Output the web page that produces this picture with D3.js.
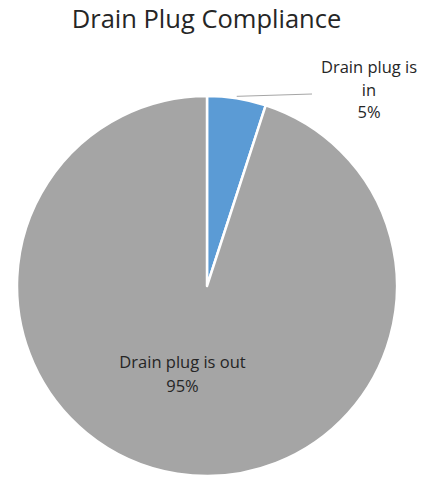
<!DOCTYPE html>
<html>
<head>
<meta charset="utf-8">
<script src="https://cdn.jsdelivr.net/npm/d3@7"></script>
<style>
  html, body { margin: 0; padding: 0; background: #fff; }
  svg text { font-family: "Open Sans", "Noto Sans", sans-serif; fill: #262626; }
</style>
</head>
<body>
<svg id="chart" width="424" height="479"></svg>
<script>
// Compliance shares, in percent
const categories = ["Drain plug is in", "Drain plug is out"];
const values = [5, 95];
const colors = ["#5b9bd5", "#a5a5a5"];
const chartTitle = "Drain Plug Compliance";

const svg = d3.select("#chart");
const cx = 207, cy = 286, radius = 190;

svg.append("text")
  .attr("x", 206.5)
  .attr("y", 28)
  .attr("text-anchor", "middle")
  .style("font-size", "25.5px")
  .text(chartTitle);

const pie = d3.pie().sort(null).value(d => d.value);
const arcs = pie(categories.map((c, i) => ({ name: c, value: values[i], color: colors[i] })));
const arc = d3.arc().innerRadius(0).outerRadius(radius);

const g = svg.append("g").attr("transform", `translate(${cx},${cy})`);

g.selectAll("path.slice")
  .data(arcs)
  .join("path")
  .attr("class", "slice")
  .attr("d", arc)
  .attr("fill", d => d.data.color)
  .attr("stroke", "#fff")
  .attr("stroke-width", 2.5)
  .attr("stroke-linejoin", "round");

const fmt = v => Math.round(v) + "%";

// Small slice: label outside with a leader line
const small = arcs[0];
const midA = (small.startAngle + small.endAngle) / 2;
const p0 = [Math.sin(midA) * radius, -Math.cos(midA) * radius - 2];
const p1 = [105, -192];
g.append("line")
  .attr("x1", p0[0]).attr("y1", p0[1])
  .attr("x2", p1[0]).attr("y2", p1[1])
  .attr("stroke", "#a6a6a6")
  .attr("stroke-width", 1);

const outLabel = g.append("text")
  .attr("text-anchor", "middle")
  .style("font-size", "16.5px");
["Drain plug is", "in", fmt(small.data.value)].forEach((t, i) => {
  outLabel.append("tspan")
    .attr("x", 162)
    .attr("y", -213 + i * 22.5)
    .text(t);
});

// Large slice: label inside
const big = arcs[1];
const inLabel = g.append("text")
  .attr("text-anchor", "middle")
  .style("font-size", "16.5px");
["Drain plug is out", fmt(big.data.value)].forEach((t, i) => {
  inLabel.append("tspan")
    .attr("x", -24.5)
    .attr("y", 82 + i * 24)
    .text(t);
});
</script>
</body>
</html>
